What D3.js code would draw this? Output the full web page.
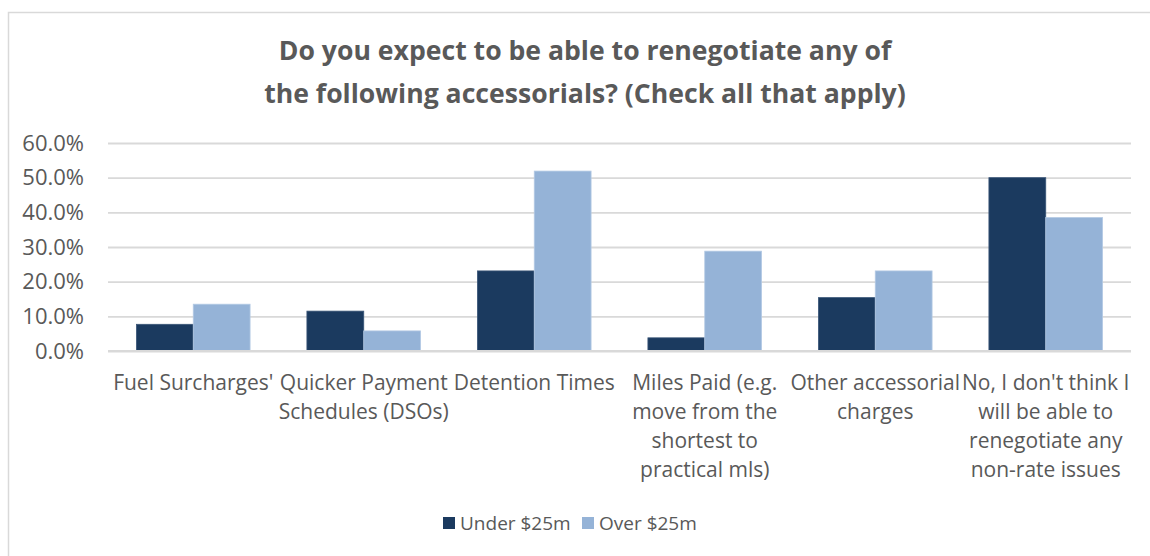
<!DOCTYPE html>
<html>
<head>
<meta charset="utf-8">
<script src="https://cdn.jsdelivr.net/npm/d3@7"></script>
<style>
  html, body { margin: 0; padding: 0; background: #fff; }
  svg { display: block; font-family: "Open Sans", "DejaVu Sans", sans-serif; }
</style>
</head>
<body>
<svg id="chart" width="1150" height="556"></svg>
<script>
// Survey answers, share of respondents per revenue band
const categories = [
  "Fuel Surcharges'",
  "Quicker Payment Schedules (DSOs)",
  "Detention Times",
  "Miles Paid (e.g. move from the shortest to practical mls)",
  "Other accessorial charges",
  "No, I don't think I will be able to renegotiate any non-rate issues"
];
// Wrapped lines for the category axis labels
const categoryLines = [
  ["Fuel Surcharges'"],
  ["Quicker Payment", "Schedules (DSOs)"],
  ["Detention Times"],
  ["Miles Paid (e.g.", "move from the", "shortest to", "practical mls)"],
  ["Other accessorial", "charges"],
  ["No, I don't think I", "will be able to", "renegotiate any", "non-rate issues"]
];
const seriesNames = ["Under $25m", "Over $25m"];
const under25m = [0.077, 0.115, 0.231, 0.038, 0.154, 0.500];
const over25m  = [0.135, 0.058, 0.519, 0.288, 0.231, 0.385];
const yTicks = [0, 0.1, 0.2, 0.3, 0.4, 0.5, 0.6];
const titleLines = [
  "Do you expect to be able to renegotiate any of",
  "the following accessorials? (Check all that apply)"
];
const colors = ["#1b3a5f", "#95b3d7"];

const svg = d3.select("#chart");
const textColor = "#595959";
const gridColor = "#d9d9d9";

// Chart area frame
svg.append("rect")
  .attr("x", 8.5).attr("y", 12.5)
  .attr("width", 1200).attr("height", 600)
  .attr("fill", "#fff")
  .attr("stroke", gridColor).attr("stroke-width", 1.5);

// Title
svg.append("g").selectAll("text")
  .data(titleLines)
  .join("text")
  .attr("x", 585)
  .attr("y", (d, i) => 60 + i * 43)
  .attr("text-anchor", "middle")
  .attr("font-size", 26.6)
  .attr("font-weight", 700)
  .attr("fill", textColor)
  .text(d => d);

const plot = { left: 108, right: 1131, top: 143, bottom: 351 };

const x0 = d3.scaleBand()
  .domain(categories)
  .range([plot.left, plot.right])
  .padding(0);

const x1 = d3.scaleBand()
  .domain(seriesNames)
  .range([0, x0.bandwidth()])
  .paddingInner(0)
  .paddingOuter(0.5);

const y = d3.scaleLinear()
  .domain([0, 0.6])
  .range([plot.bottom, plot.top]);

// Gridlines and y tick labels
const yAxis = d3.axisLeft(y)
  .tickValues(yTicks)
  .tickSize(-(plot.right - plot.left))
  .tickPadding(24)
  .tickFormat(d3.format(".1%"));

const yg = svg.append("g")
  .attr("transform", `translate(${plot.left},0)`)
  .call(yAxis);
yg.select(".domain").remove();
yg.selectAll(".tick line")
  .attr("stroke", gridColor)
  .attr("stroke-width", 1.8);
yg.selectAll(".tick text")
  .attr("fill", textColor)
  .attr("font-size", 22)
  .attr("font-family", "Open Sans, sans-serif");

// Bars
const rows = categories.map((c, i) => ({
  category: c,
  values: [under25m[i], over25m[i]]
}));

svg.append("g")
  .selectAll("g")
  .data(rows)
  .join("g")
  .attr("transform", d => `translate(${x0(d.category)},0)`)
  .selectAll("rect")
  .data(d => d.values.map((v, j) => ({ series: seriesNames[j], value: v, j })))
  .join("rect")
  .attr("x", d => x1(d.series))
  .attr("width", x1.bandwidth())
  .attr("y", d => y(d.value))
  .attr("height", d => y(0) - y(d.value))
  .attr("fill", d => colors[d.j])
  .attr("stroke", d => d.j === 0 ? "#3a5678" : "#b4cae4")
  .attr("stroke-width", 0.8);

// Baseline drawn over the bars
svg.append("line")
  .attr("x1", plot.left).attr("x2", plot.right)
  .attr("y1", y(0)).attr("y2", y(0))
  .attr("stroke", gridColor).attr("stroke-width", 1.8);

// Category labels
const xg = svg.append("g");
categories.forEach((c, i) => {
  xg.append("text")
    .attr("x", x0(c) + x0.bandwidth() / 2)
    .attr("text-anchor", "middle")
    .attr("font-size", 21)
    .attr("fill", textColor)
    .selectAll("tspan")
    .data(categoryLines[i])
    .join("tspan")
    .attr("x", x0(c) + x0.bandwidth() / 2)
    .attr("y", (d, k) => 390 + k * 29)
    .text(d => d);
});

// Legend
const legend = svg.append("g").attr("font-size", 19).attr("fill", textColor);
const legendItems = [
  { name: seriesNames[0], x: 443 },
  { name: seriesNames[1], x: 582 }
];
legendItems.forEach((item, j) => {
  legend.append("rect")
    .attr("x", item.x).attr("y", 517)
    .attr("width", 12).attr("height", 12)
    .attr("fill", colors[j]);
  legend.append("text")
    .attr("x", item.x + 17).attr("y", 530)
    .attr("fill", textColor)
    .text(item.name);
});
</script>
</body>
</html>
